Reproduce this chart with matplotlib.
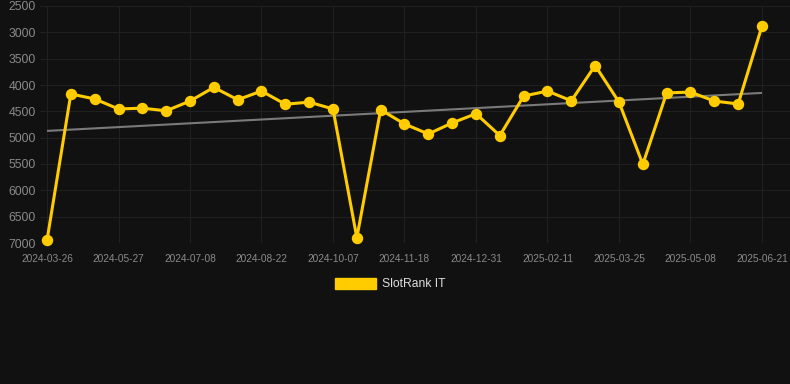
import numpy as np
import matplotlib
matplotlib.use("Agg")
import matplotlib.pyplot as plt
from matplotlib.patches import Patch

plt.rcParams['font.family'] = ['Liberation Sans', 'DejaVu Sans']

series_name = "SlotRank IT"
rank_values = [6950, 4170, 4265, 4455, 4440, 4490, 4305, 4045, 4280, 4115,
               4365, 4325, 4455, 6900, 4470, 4740, 4930, 4720, 4545, 4960,
               4210, 4115, 4300, 3630, 4325, 5505, 4150, 4135, 4305, 4360,
               2880]
tick_labels = ["2024-03-26", "2024-05-27", "2024-07-08", "2024-08-22",
               "2024-10-07", "2024-11-18", "2024-12-31", "2025-02-11",
               "2025-03-25", "2025-05-08", "2025-06-21"]
y_ticks = [2500, 3000, 3500, 4000, 4500, 5000, 5500, 6000, 6500, 7000]

BG = "#111111"
YELLOW = "#FFCC00"

fig = plt.figure(figsize=(7.9, 3.84), dpi=100, facecolor=BG)
ax = fig.add_axes([40/790, (384-243)/384, 750/790, 237/384], facecolor=BG)

x = np.arange(len(rank_values))
y = np.array(rank_values, dtype=float)

# trend line (linear regression)
coef = np.polyfit(x, y, 1)
ax.plot(x, np.polyval(coef, x), color="#7a7a7a", lw=1.5, zorder=2, solid_capstyle="butt")

ax.plot(x, y, color=YELLOW, lw=2.2, marker="o", markersize=7.2,
        markerfacecolor=YELLOW, markeredgecolor=YELLOW, zorder=3, clip_on=False)

ax.set_xlim(-7/23.83, 30 + 28/23.83)
ax.set_ylim(7000, 2500)

tick_pos = np.arange(0, len(rank_values), 3)
ax.set_xticks(tick_pos)
ax.set_xticklabels(tick_labels)
ax.set_yticks(y_ticks)
ax.set_yticklabels([str(v) for v in y_ticks])

ax.tick_params(axis="x", length=0, pad=8, labelsize=7.3, labelcolor="#8a8a8a")
ax.tick_params(axis="y", length=0, pad=3, labelsize=8.7, labelcolor="#8a8a8a")

ax.grid(True, color="#202020", lw=0.8)
ax.set_axisbelow(True)
for s in ax.spines.values():
    s.set_visible(False)

handles = [Patch(facecolor=YELLOW, edgecolor=YELLOW, label=series_name)]
fig.legend(handles=handles, loc="center", bbox_to_anchor=(390/790, 1-284/384),
           frameon=False, fontsize=8.7, labelcolor="#dddddd",
           handlelength=3.4, handleheight=1.0, handletextpad=0.5)

fig.savefig("out.png", dpi=100, facecolor=BG)
